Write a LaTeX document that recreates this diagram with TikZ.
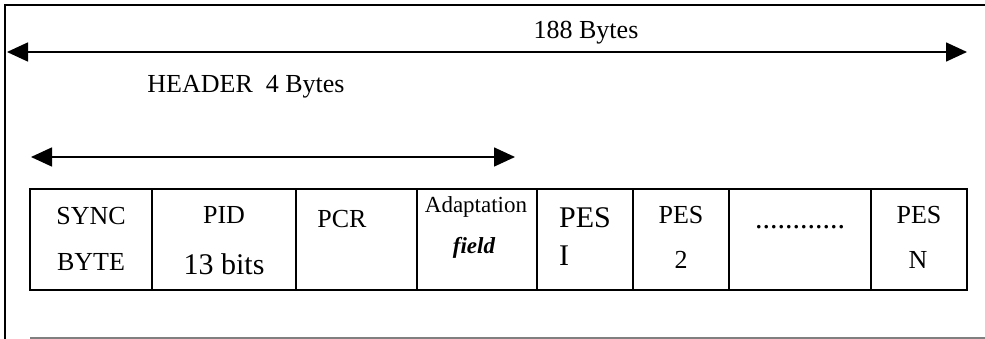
\documentclass[tikz,border=0pt]{standalone}
\usepackage{fontspec}
\setmainfont{Liberation Serif}
\usepackage{tikz}
\usetikzlibrary{positioning, arrows.meta}

\tikzset{
  field/.style={draw, line width=1.4pt, minimum height=101pt, inner sep=0pt, outer sep=0pt},
  lbl/.style={anchor=base, inner sep=0pt, font=\fontsize{26}{30}\selectfont},
  biglbl/.style={lbl, font=\fontsize{30}{34}\selectfont},
  span/.style={line width=1.6pt, {Triangle[length=21pt,width=19pt]}-{Triangle[length=21pt,width=19pt]}},
}

\begin{document}
\begin{tikzpicture}[x=1pt, y=-1pt]
  \useasboundingbox (0,0) rectangle (985,339);
  % Frame
  \draw[line width=1.5pt] (5,339) -- (5,5) -- (985,5);
  \draw[gray, line width=1.5pt] (30,338) -- (985,338);
  % Packet arrow
  \coordinate (pktL) at (7,52);
  \coordinate (pktR) at (967,52);
  \draw[span] (pktL) -- (pktR);
  \node[lbl] (pktlbl) at (586,39) {188 Bytes};
  % Header arrow
  \coordinate (hdrL) at (31,157);
  \coordinate (hdrR) at (515,157);
  \draw[span] (hdrL) -- (hdrR);
  \node[lbl] (hdrlbl) at (246,93) {HEADER\ \ 4 Bytes};
  % Fields
  \node[field, minimum width=122pt, anchor=north west] (sync) at (30,189) {};
  \node[field, minimum width=144pt, right=0pt of sync] (pid) {};
  \node[field, minimum width=121pt, right=0pt of pid] (pcr) {};
  \node[field, minimum width=120pt, right=0pt of pcr] (adapt) {};
  \node[field, minimum width=96pt, right=0pt of adapt] (pesa) {};
  \node[field, minimum width=96pt, right=0pt of pesa] (pesb) {};
  \node[field, minimum width=142pt, right=0pt of pesb] (dots) {};
  \node[field, minimum width=96pt, right=0pt of dots] (pesn) {};
  % Field labels
  \node[lbl] (syncA) at (91,225) {SYNC};
  \node[lbl] (syncB) at (91,270) {BYTE};
  \node[lbl] (pidA) at (224,224) {PID};
  \node[biglbl] (pidB) at (224,274) {13 bits};
  \node[lbl] (pcrA) at (342,227) {PCR};
  \node[lbl, font=\fontsize{23}{26}\selectfont] (adaptA) at (476,212) {Adaptation};
  \node[lbl, font=\fontsize{23}{26}\selectfont\bfseries\itshape] (adaptB) at (474,253) {field};
  \node[biglbl] (pesaA) at (585,228) {PES};
  \node[biglbl] (pesaB) at (564,265) {I};
  \node[lbl] (pesbA) at (681,223) {PES};
  \node[lbl] (pesbB) at (681,268) {2};
  \node[biglbl] (dotsA) at (800,229) {............};
  \node[lbl] (pesnA) at (919,223) {PES};
  \node[lbl] (pesnB) at (918,268) {N};
\end{tikzpicture}
\end{document}
